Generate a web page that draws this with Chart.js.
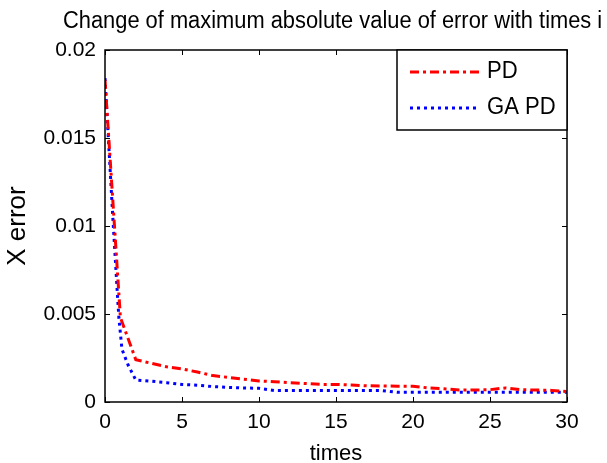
<!DOCTYPE html>
<html>
<head>
<meta charset="utf-8">
<script src="https://cdn.jsdelivr.net/npm/chart.js@4"></script>
<style>
  html, body { margin: 0; padding: 0; background: #fff; }
  canvas { display: block; }
</style>
</head>
<body>
<canvas id="chart" width="607" height="463"></canvas>
<script>
const titleText = 'Change of maximum absolute value of error with times i'
const xLabel = 'times'
const yLabel = 'X error'
const seriesNames = ['PD', 'GA PD']

const pdTimes = [0, 1, 2, 3, 4, 5, 6, 7, 8, 9, 10, 11, 12, 13, 14, 15, 16, 17, 18, 19, 20, 21, 22, 23, 24, 25, 26, 27, 28, 29, 30]
const pdError = [0.0183, 0.0048, 0.0024, 0.0022, 0.002, 0.00188, 0.0017, 0.0015, 0.0014, 0.0013, 0.0012, 0.00115, 0.0011, 0.00105, 0.001, 0.001, 0.00097, 0.00092, 0.00091, 0.0009, 0.0009, 0.0008, 0.00075, 0.00068, 0.00068, 0.0007, 0.0008, 0.0007, 0.00068, 0.00066, 0.00059]

const gaTimes = [0, 0.5, 0.8, 0.9, 1.1, 1.5, 2, 3, 4, 5, 6, 7, 8, 9, 10, 11, 12, 13, 14, 15, 16, 17, 18, 19, 20, 21, 22, 23, 24, 25, 26, 27, 28, 29, 30]
const gaError = [0.0184, 0.0106, 0.0062, 0.0048, 0.003, 0.0021, 0.00125, 0.00118, 0.0011, 0.001, 0.00095, 0.00088, 0.00083, 0.0008, 0.00078, 0.00065, 0.00065, 0.00065, 0.00065, 0.00065, 0.00065, 0.00065, 0.00065, 0.00055, 0.00055, 0.00055, 0.00055, 0.00055, 0.00055, 0.00055, 0.00055, 0.00055, 0.00055, 0.00055, 0.00055]

const xTickValues = [0, 5, 10, 15, 20, 25, 30]
const yTickValues = [0, 0.005, 0.01, 0.015, 0.02]
const yTickLabels = ['0', '0.005', '0.01', '0.015', '0.02']

const FONT = "'Liberation Sans', Arial, Helvetica, sans-serif"
const tickFont = { family: FONT, size: 21 }

// text squeezed a little sideways, like the stretched matlab export
function narrowText(ctx, text, x, y, sx) {
  ctx.save()
  ctx.translate(x, y)
  ctx.scale(sx, 1)
  ctx.fillText(text, 0, 0)
  ctx.restore()
}

// box, inward ticks, title and the boxed legend
const matlabAxes = {
  id: 'matlabAxes',
  afterDraw(chart) {
    const ctx = chart.ctx
    const a = chart.chartArea
    const xs = chart.scales.x, ys = chart.scales.y
    ctx.save()
    ctx.strokeStyle = '#000'
    ctx.lineWidth = 1.5
    ctx.strokeRect(a.left, a.top, a.right - a.left, a.bottom - a.top)
    ctx.lineWidth = 1
    ctx.beginPath()
    xTickValues.forEach(v => {
      const px = Math.round(xs.getPixelForValue(v)) + 0.5
      ctx.moveTo(px, a.bottom); ctx.lineTo(px, a.bottom - 5)
      ctx.moveTo(px, a.top); ctx.lineTo(px, a.top + 5)
    })
    yTickValues.forEach(v => {
      const py = Math.round(ys.getPixelForValue(v)) + 0.5
      ctx.moveTo(a.left, py); ctx.lineTo(a.left + 5, py)
      ctx.moveTo(a.right, py); ctx.lineTo(a.right - 5, py)
    })
    ctx.stroke()

    // title
    ctx.fillStyle = '#000'
    ctx.font = "23px " + FONT
    ctx.textAlign = 'left'
    ctx.textBaseline = 'alphabetic'
    narrowText(ctx, titleText, 63, 28, 0.95)

    // legend
    const lx = 397, ly = a.top, lw = a.right - lx, lh = 80
    ctx.fillStyle = '#fff'
    ctx.fillRect(lx, ly, lw, lh)
    ctx.strokeStyle = '#000'
    ctx.lineWidth = 1.5
    ctx.strokeRect(lx, ly, lw, lh)
    chart.data.datasets.forEach((ds, i) => {
      const y = ly + 22 + i * 36
      ctx.strokeStyle = ds.borderColor
      ctx.lineWidth = ds.borderWidth
      ctx.setLineDash(ds.borderDash)
      ctx.beginPath()
      ctx.moveTo(410, y); ctx.lineTo(479, y)
      ctx.stroke()
      ctx.setLineDash([])
      ctx.fillStyle = '#000'
      ctx.textBaseline = 'middle'
      narrowText(ctx, ds.label, 487, y, 0.96)
    })
    ctx.restore()
  }
}

const ctx = document.getElementById('chart').getContext('2d')
new Chart(ctx, {
  type: 'line',
  data: {
    datasets: [{
      label: seriesNames[0],
      data: pdTimes.map((t, i) => ({ x: t, y: pdError[i] })),
      borderColor: '#ff0000',
      borderWidth: 3,
      borderDash: [9, 4, 3, 4],
      pointRadius: 0,
      fill: false
    }, {
      label: seriesNames[1],
      data: gaTimes.map((t, i) => ({ x: t, y: gaError[i] })),
      borderColor: '#0000ff',
      borderWidth: 3,
      borderDash: [3, 4],
      pointRadius: 0,
      fill: false
    }]
  },
  options: {
    responsive: false,
    animation: false,
    devicePixelRatio: 1,
    layout: { padding: { top: 50, right: 40, left: 0, bottom: 0 } },
    plugins: {
      legend: { display: false },
      title: { display: false },
      tooltip: { enabled: false }
    },
    scales: {
      x: {
        type: 'linear',
        min: 0,
        max: 30,
        afterFit: s => { s.height = 61 },
        afterBuildTicks: s => { s.ticks = xTickValues.map(v => ({ value: v })) },
        grid: { display: false, drawTicks: false },
        border: { display: false },
        ticks: { color: '#000', font: tickFont, padding: 8, maxRotation: 0 },
        title: { display: true, text: xLabel, color: '#000', font: { family: FONT, size: 22, lineHeight: 0.8 }, padding: 0 }
      },
      y: {
        type: 'linear',
        min: 0,
        max: 0.02,
        afterFit: s => { s.width = 105 },
        afterBuildTicks: s => { s.ticks = yTickValues.map(v => ({ value: v })) },
        grid: { display: false, drawTicks: false },
        border: { display: false },
        ticks: {
          color: '#000',
          font: tickFont,
          padding: 9,
          callback: (v, i) => yTickLabels[i]
        },
        title: { display: true, text: yLabel, color: '#000', font: { family: FONT, size: 26, lineHeight: 1 }, padding: { top: 5, bottom: 0 } }
      }
    }
  },
  plugins: [matlabAxes]
})
</script>
</body>
</html>
